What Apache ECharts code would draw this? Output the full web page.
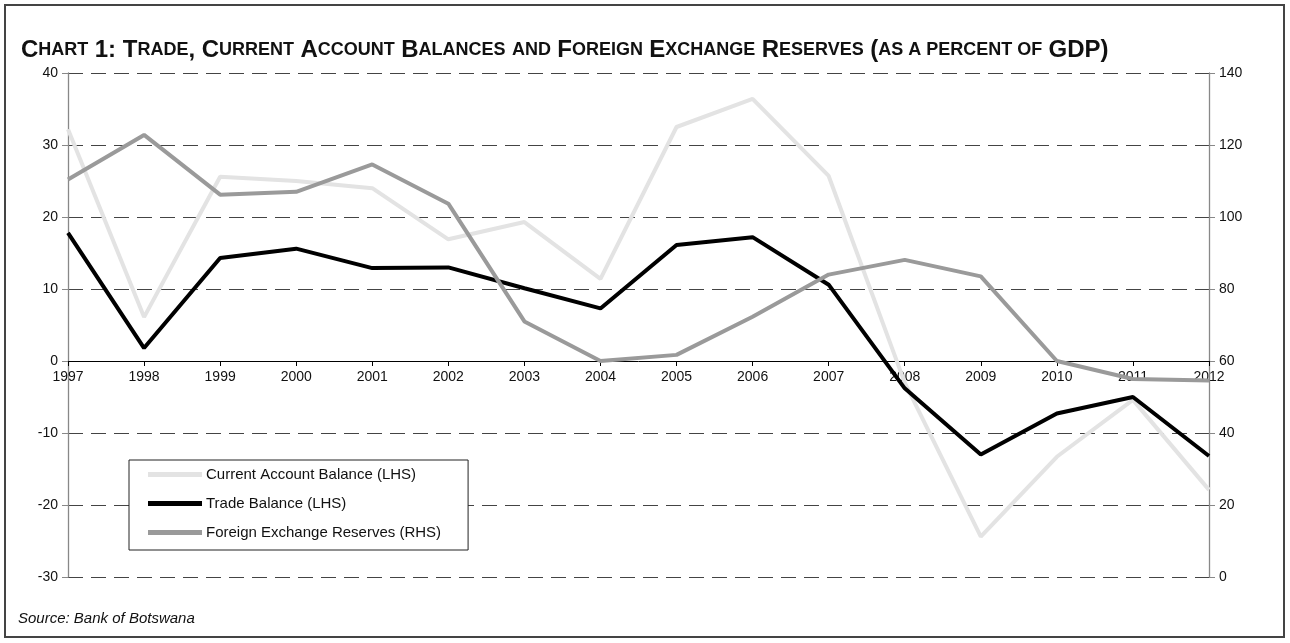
<!DOCTYPE html>
<html>
<head>
<meta charset="utf-8">
<script src="https://cdn.jsdelivr.net/npm/echarts@6/dist/echarts.min.js"></script>
<style>
  html, body { margin: 0; padding: 0; background: #fff; }
  #chart { width: 1290px; height: 643px; }
</style>
</head>
<body>
<div id="chart"></div>
<script>
const years = ["1997", "1998", "1999", "2000", "2001", "2002", "2003", "2004",
  "2005", "2006", "2007", "2008", "2009", "2010", "2011", "2012"];
// LHS, percent of GDP
const currentAccount = [32.2, 6.1, 25.6, 25.0, 24.0, 16.9, 19.3, 11.4,
  32.5, 36.4, 25.7, -3.0, -24.4, -13.3, -5.4, -17.9];
const tradeBalance = [17.8, 1.8, 14.3, 15.6, 12.9, 13.0, 10.1, 7.3,
  16.1, 17.2, 10.6, -3.8, -13.0, -7.3, -5.0, -13.2];
// RHS, percent of GDP
const fxReserves = [110.4, 122.8, 106.2, 107.0, 114.6, 103.7, 71.0, 60.0,
  61.7, 72.3, 84.0, 88.1, 83.5, 60.0, 55.0, 54.6];

const chart = echarts.init(document.getElementById("chart"));

const titleFont = "'Liberation Sans Narrow', 'Arial Narrow', 'Liberation Sans', sans-serif";
const baseFont = "'Liberation Sans', Arial, sans-serif";
const axisLabel = { color: "#111", fontSize: 14, fontFamily: baseFont };
const dashed = { show: true, lineStyle: { color: "#444", type: [15, 8], width: 1.2 } };

const option = {
  animation: false,
  backgroundColor: "#fff",
  title: {
    left: 16,
    top: 33,
    text: "{b|C}{s|HART} {b|1: T}{s|RADE}{b|, C}{s|URRENT} {b|A}{s|CCOUNT} {b|B}{s|ALANCES} {s|AND} {b|F}{s|OREIGN} {b|E}{s|XCHANGE} {b|R}{s|ESERVES} {b|(}{s|AS A PERCENT OF} {b|GDP)}",
    textStyle: {
      fontFamily: titleFont,
      fontWeight: "bold",
      fontSize: 23,
      color: "#111",
      rich: {
        b: { fontFamily: titleFont, fontWeight: "bold", fontSize: 24, color: "#111" },
        s: { fontFamily: titleFont, fontWeight: "bold", fontSize: 18, color: "#111" }
      }
    }
  },
  graphic: [
    {
      type: "rect",
      shape: { x: 5, y: 5, width: 1279, height: 632 },
      style: { fill: "none", stroke: "#444", lineWidth: 2 },
      silent: true
    },
    {
      type: "text",
      left: 18,
      top: 611,
      style: {
        text: "Source: Bank of Botswana",
        font: "italic 15px 'Liberation Sans', Arial, sans-serif",
        fill: "#111"
      }
    }
  ],
  legend: {
    orient: "vertical",
    left: 129,
    top: 460,
    padding: [7, 27, 10, 19],
    itemGap: 14,
    itemWidth: 54,
    itemHeight: 5,
    icon: "rect",
    backgroundColor: "#fff",
    borderColor: "#222",
    borderWidth: 1,
    textStyle: { color: "#111", fontSize: 15, fontFamily: baseFont, padding: [0, 0, 0, -1] },
    data: ["Current Account Balance (LHS)", "Trade Balance (LHS)", "Foreign Exchange Reserves (RHS)"]
  },
  grid: { left: 68, right: 81, top: 73, bottom: 66 },
  xAxis: {
    type: "category",
    data: years,
    boundaryGap: false,
    position: "bottom",
    offset: -216,
    axisLine: { onZero: false, lineStyle: { color: "#000", width: 1 } },
    axisTick: { show: true, length: 5, lineStyle: { color: "#000" } },
    axisLabel: { ...axisLabel, margin: 9 },
    splitLine: { show: false }
  },
  yAxis: [
    {
      type: "value",
      min: -30,
      max: 40,
      interval: 10,
      position: "left",
      axisLine: { show: true, lineStyle: { color: "#888", width: 1.3 } },
      axisTick: { show: true, length: 6, lineStyle: { color: "#888" } },
      axisLabel: { ...axisLabel, margin: 10 },
      splitLine: dashed
    },
    {
      type: "value",
      min: 0,
      max: 140,
      interval: 20,
      position: "right",
      axisLine: { show: true, lineStyle: { color: "#888", width: 1.3 } },
      axisTick: { show: true, length: 6, lineStyle: { color: "#888" } },
      axisLabel: { ...axisLabel, margin: 10 },
      splitLine: { show: false }
    }
  ],
  series: [
    {
      name: "Current Account Balance (LHS)",
      type: "line",
      yAxisIndex: 0,
      data: currentAccount,
      symbol: "none",
      itemStyle: { color: "#e3e3e3" },
      lineStyle: { color: "#e3e3e3", width: 4 }
    },
    {
      name: "Trade Balance (LHS)",
      type: "line",
      yAxisIndex: 0,
      data: tradeBalance,
      symbol: "none",
      itemStyle: { color: "#000" },
      lineStyle: { color: "#000", width: 4 }
    },
    {
      name: "Foreign Exchange Reserves (RHS)",
      type: "line",
      yAxisIndex: 1,
      data: fxReserves,
      symbol: "none",
      itemStyle: { color: "#9a9a9a" },
      lineStyle: { color: "#9a9a9a", width: 4 }
    }
  ]
};

chart.setOption(option);
</script>
</body>
</html>
